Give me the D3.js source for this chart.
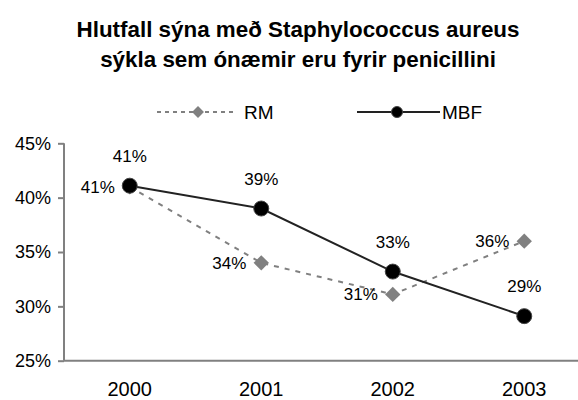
<!DOCTYPE html>
<html>
<head>
<meta charset="utf-8">
<script src="https://cdn.jsdelivr.net/npm/d3@7"></script>
<style>
  body { margin: 0; background: #fff; }
  svg { display: block; font-family: "Liberation Sans", Arial, sans-serif; }
</style>
</head>
<body>
<svg id="chart" width="578" height="400"></svg>
<script>
const WIDTH = 578;
const HEIGHT = 400;

let years = ["2000", "2001", "2002", "2003"];
let rmValues = [0.41, 0.34, 0.311, 0.36];
let mbfValues = [0.411, 0.39, 0.332, 0.291];
let yTicks = [0.25, 0.30, 0.35, 0.40, 0.45];
let titleLines = ["Hlutfall sýna með Staphylococcus aureus", "sýkla sem ónæmir eru fyrir penicillini"];

let svg = d3.select("#chart");

let x = d3.scaleBand().domain(years).range([64, 590]);
let y = d3.scaleLinear().domain([0.25, 0.45]).range([360.7, 143.3]);

function cx(d, i) { return x(years[i]) + x.bandwidth() / 2; }

// title
svg.append("g").selectAll("text").data(titleLines).enter().append("text")
  .attr("x", 298)
  .attr("y", function(d, i) { return 37 + i * 30; })
  .attr("text-anchor", "middle")
  .style("font-size", "22.4px")
  .style("font-weight", "bold")
  .text(function(d) { return d; });

// legend
let legend = svg.append("g");
legend.append("line")
  .attr("x1", 157).attr("x2", 235).attr("y1", 112).attr("y2", 112)
  .attr("stroke", "#808080").attr("stroke-width", 2).attr("stroke-dasharray", "4,4");
legend.append("path")
  .attr("d", d3.symbol().type(d3.symbolDiamond2).size(90))
  .attr("transform", "translate(198,112)")
  .attr("fill", "#808080");
legend.append("text").attr("x", 244).attr("y", 119).style("font-size", "19px").text("RM");
legend.append("line")
  .attr("x1", 357).attr("x2", 440).attr("y1", 112).attr("y2", 112)
  .attr("stroke", "#222").attr("stroke-width", 2);
legend.append("circle")
  .attr("cx", 397).attr("cy", 112).attr("r", 5.5)
  .attr("fill", "#000").attr("stroke", "#444");
legend.append("text").attr("x", 442).attr("y", 119).style("font-size", "19px").text("MBF");

// axes
let yAxis = svg.append("g")
  .attr("transform", "translate(64,0)")
  .call(d3.axisLeft(y).tickValues(yTicks).tickSize(6).tickPadding(7).tickFormat(d3.format(".0%")));
yAxis.select(".domain").attr("d", "M0," + y(0.45) + "V" + y(0.25));

let xAxis = svg.append("g")
  .attr("transform", "translate(0," + y(0.25) + ")")
  .call(d3.axisBottom(x).tickSize(0).tickPadding(21));
xAxis.select(".domain").attr("d", "M64,0H" + WIDTH);
xAxis.selectAll(".boundary").data(years).enter().append("line")
  .attr("x1", function(d) { return x(d); })
  .attr("x2", function(d) { return x(d); })
  .attr("y1", 0).attr("y2", 6);

svg.selectAll(".domain, .tick line, .boundary")
  .attr("stroke", "#808080").attr("stroke-width", 2);
yAxis.selectAll("text").style("font-size", "18px").attr("fill", "#000");
xAxis.selectAll("text").style("font-size", "20px").attr("fill", "#000");

// series lines
let line = d3.line()
  .x(function(d, i) { return cx(d, i); })
  .y(function(d) { return y(d); });

svg.append("path").datum(rmValues)
  .attr("d", line)
  .attr("fill", "none")
  .attr("stroke", "#808080")
  .attr("stroke-width", 2)
  .attr("stroke-dasharray", "5,6");

svg.append("path").datum(mbfValues)
  .attr("d", line)
  .attr("fill", "none")
  .attr("stroke", "#222")
  .attr("stroke-width", 2);

// markers
svg.append("g").selectAll("path").data(rmValues).enter().append("path")
  .attr("d", d3.symbol().type(d3.symbolDiamond2).size(150))
  .attr("transform", function(d, i) { return "translate(" + cx(d, i) + "," + y(d) + ")"; })
  .attr("fill", "#808080");

svg.append("g").selectAll("circle").data(mbfValues).enter().append("circle")
  .attr("cx", cx)
  .attr("cy", function(d) { return y(d); })
  .attr("r", 7.5)
  .attr("fill", "#000")
  .attr("stroke", "#444")
  .attr("stroke-width", 1);

// data labels
let pct = d3.format(".0%");

svg.append("g").selectAll("text").data(rmValues).enter().append("text")
  .attr("x", function(d, i) { return cx(d, i) - 15; })
  .attr("y", function(d) { return y(d) + 6; })
  .attr("text-anchor", "end")
  .style("font-size", "17px")
  .text(pct);

svg.append("g").selectAll("text").data(mbfValues).enter().append("text")
  .attr("x", cx)
  .attr("y", function(d) { return y(d) - 24; })
  .attr("text-anchor", "middle")
  .style("font-size", "17px")
  .text(pct);
</script>
</body>
</html>
